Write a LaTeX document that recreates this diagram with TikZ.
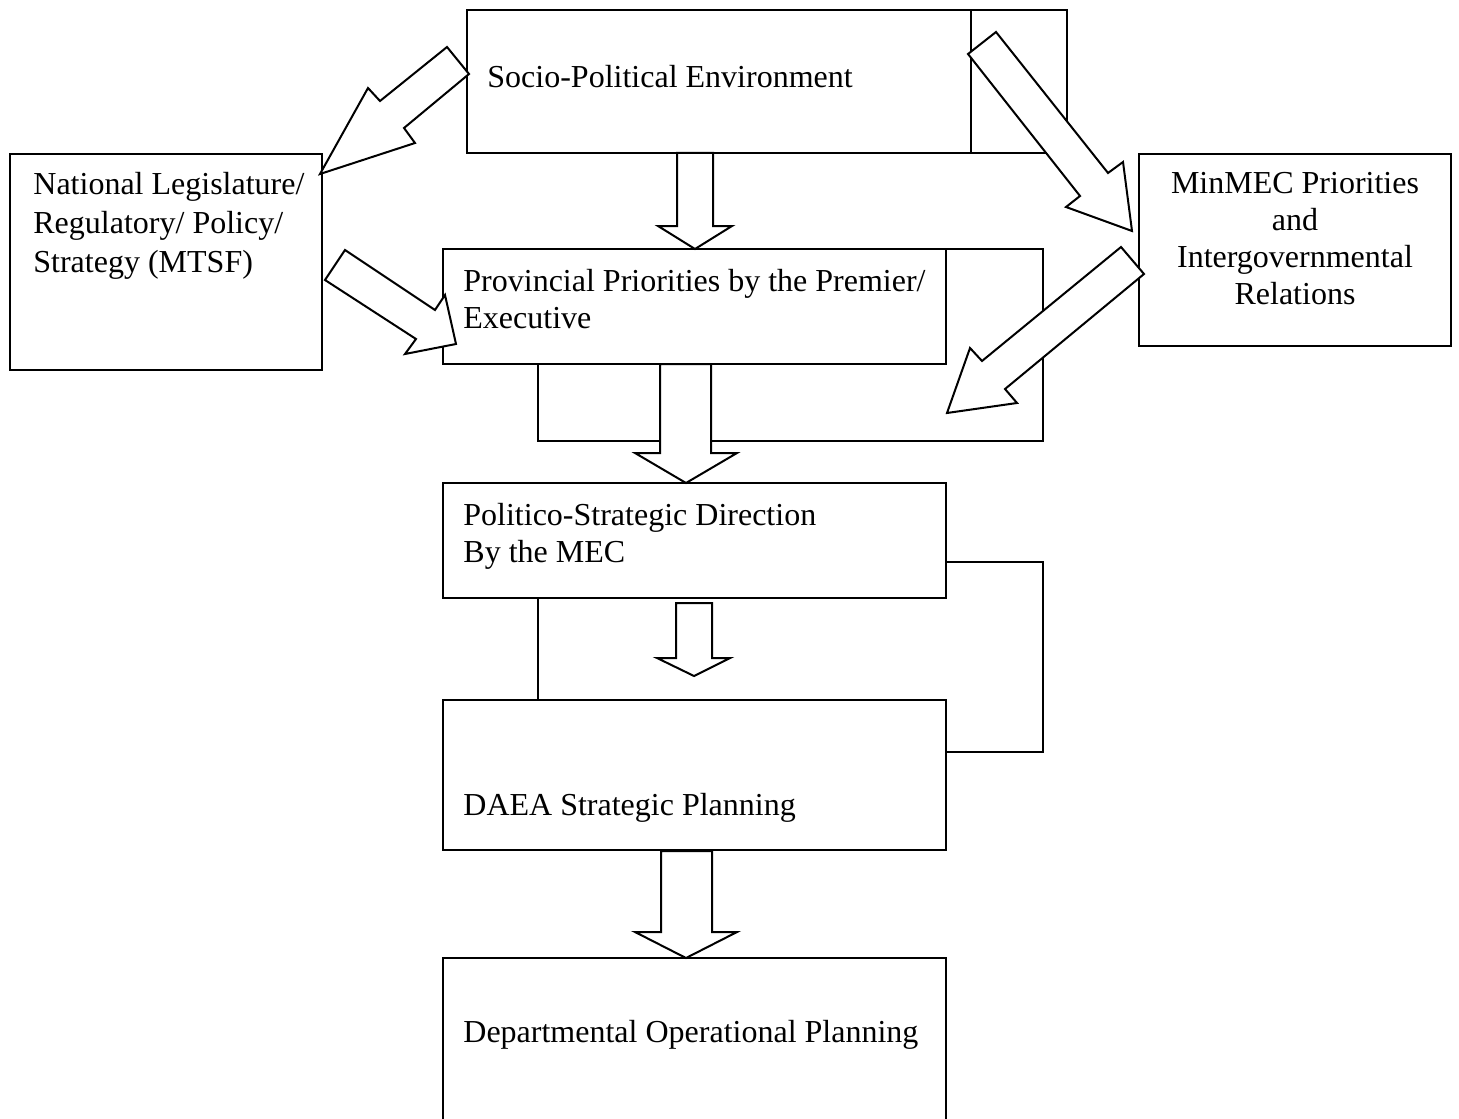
\documentclass[tikz,border=0pt]{standalone}
\usepackage{fontspec}
\setmainfont{Liberation Serif}

\tikzset{
  box/.style={draw, line width=1pt, inner sep=0pt, outer sep=0pt, anchor=north west},
  boxtext/.style={inner sep=0pt, font=\fontsize{16}{18.5}\selectfont, align=left, anchor=base west},
  link/.style={draw, line width=1pt},
  blockarrow/.style={draw, fill=white, line width=1pt, line join=miter},
}

\begin{document}
\begin{tikzpicture}[x=0.5pt, y=-0.5pt]
\useasboundingbox (0,0) rectangle (1459,1118);
\clip (0,0) rectangle (1459,1118);

% Boxes
\node[box, minimum width=252pt, minimum height=71.5pt] (socio) at (467,10) {};
\node[box, minimum width=48pt, minimum height=71.5pt] (sociox) at (socio.north east) {};
\node[box, minimum width=156pt, minimum height=108pt] (natl) at (10,154) {};
\node[box, minimum width=156pt, minimum height=96pt] (minmec) at (1139,154) {};
\node[box, minimum width=251.5pt, minimum height=57.5pt] (prov) at (443,249) {};
\node[box, minimum width=251.5pt, minimum height=57.5pt] (mec) at (443,483) {};
\node[box, minimum width=251.5pt, minimum height=75pt] (daea) at (443,700) {};
\node[box, minimum width=251.5pt, minimum height=90pt] (dept) at (443,958) {};

% Side lines
\coordinate (provfoot) at (538,364);
\coordinate (mecfoot) at (538,598);
\coordinate (mecside) at (946,562);
\coordinate (daeaside) at (946,752);
\draw[link] (prov.north east) -- ++(97,0) -- ++(0,192) -| (provfoot);
\draw[link] (mecfoot) -- (mecfoot |- daea.north);
\draw[link] (mecside) -- ++(97,0) |- (daeaside);

% Block arrows down
\draw[blockarrow] (677,153) -- (677,226) -- (658,226) -- (695,249) -- (732,226) -- (713,226) -- (713,153) -- cycle;
\draw[blockarrow] (660,364) -- (660,453) -- (635,453) -- (686,483) -- (737,453) -- (711,453) -- (711,364) -- cycle;
\draw[blockarrow] (676,603) -- (676,658) -- (657,658) -- (694,676) -- (730,658) -- (712,658) -- (712,603) -- cycle;
\draw[blockarrow] (661,851) -- (661,932) -- (635,932) -- (686,958) -- (737,932) -- (712,932) -- (712,851) -- cycle;

% Block arrows slanted
\draw[blockarrow] (447,47) -- (380,101) -- (368,88) -- (320,174) -- (415,143) -- (404,128) -- (469,74) -- cycle;
\draw[blockarrow] (968,54) -- (996,32) -- (1108,173) -- (1123,162) -- (1132,231) -- (1066,207) -- (1080,196) -- cycle;
\draw[blockarrow] (345,250) -- (435,310) -- (445,295) -- (456,344) -- (405,354) -- (416,339) -- (325,280) -- cycle;
\draw[blockarrow] (1121,247) -- (982,361) -- (970,348) -- (947,413) -- (1017,403) -- (1005,389) -- (1144,274) -- cycle;

% Texts (base = last line)
\node[boxtext] (sociot) at (487,88) {Socio-Political Environment};
\node[boxtext, font=\fontsize{16}{19.5}\selectfont] (natlt) at (33,272) {National Legislature/\\Regulatory/ Policy/\\Strategy (MTSF)};
\node[boxtext, align=center, anchor=base] (minmect) at (1295,304) {MinMEC Priorities\\and\\Intergovernmental\\Relations};
\node[boxtext] (provt) at (463,328) {Provincial Priorities by the Premier/\\Executive};
\node[boxtext] (mect) at (463,562) {Politico-Strategic Direction\\By the MEC};
\node[boxtext] (daeat) at (463,815) {DAEA Strategic Planning};
\node[boxtext] (deptt) at (463,1042) {Departmental Operational Planning};
\end{tikzpicture}
\end{document}
